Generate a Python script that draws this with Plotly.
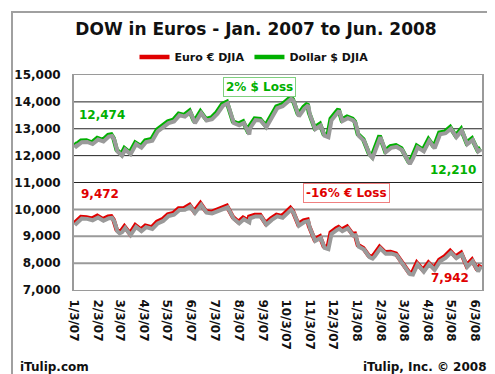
import plotly.graph_objects as go
import datetime as _dt

DATES = [
    "2007-01-03", "2007-01-05", "2007-01-12", "2007-01-19", "2007-01-26", "2007-02-02", "2007-02-09",
    "2007-02-16", "2007-02-20", "2007-02-23", "2007-02-27", "2007-03-02", "2007-03-05", "2007-03-09",
    "2007-03-14", "2007-03-16", "2007-03-23", "2007-03-30", "2007-04-05", "2007-04-13", "2007-04-20",
    "2007-04-27", "2007-05-04", "2007-05-11", "2007-05-18", "2007-05-25", "2007-06-01", "2007-06-07",
    "2007-06-15", "2007-06-22", "2007-06-29", "2007-07-06", "2007-07-13", "2007-07-19", "2007-07-27",
    "2007-08-03", "2007-08-09", "2007-08-16", "2007-08-17", "2007-08-24", "2007-08-31", "2007-09-07",
    "2007-09-14", "2007-09-21", "2007-09-28", "2007-10-05", "2007-10-09", "2007-10-12", "2007-10-19",
    "2007-10-26", "2007-10-31", "2007-11-02", "2007-11-09", "2007-11-16", "2007-11-21", "2007-11-26",
    "2007-11-30", "2007-12-07", "2007-12-10", "2007-12-14", "2007-12-21", "2007-12-28", "2007-12-31",
    "2008-01-04", "2008-01-11", "2008-01-18", "2008-01-22", "2008-01-25", "2008-02-01", "2008-02-08",
    "2008-02-15", "2008-02-22", "2008-02-29", "2008-03-07", "2008-03-10", "2008-03-14", "2008-03-20",
    "2008-03-28", "2008-04-04", "2008-04-11", "2008-04-18", "2008-04-25", "2008-05-02", "2008-05-09",
    "2008-05-16", "2008-05-23", "2008-05-30", "2008-06-06", "2008-06-10",
]

DOLLAR_DJIA = [
    12474, 12398, 12556, 12565, 12487, 12653, 12580,
    12767, 12786, 12647, 12216, 12114, 12050, 12276,
    12133, 12110, 12481, 12354, 12560, 12612, 12961,
    13120, 13265, 13327, 13556, 13507, 13668, 13266,
    13639, 13360, 13409, 13611, 13908, 14000, 13265,
    13182, 13271, 12845, 13079, 13379, 13358, 13113,
    13442, 13821, 13896, 14066, 14165, 14093, 13522,
    13807, 13930, 13595, 13042, 13177, 12799, 12743,
    13372, 13625, 13727, 13339, 13450, 13366, 13265,
    12800, 12606, 12099, 11971, 12207, 12743, 12183,
    12348, 12381, 12266, 11894, 11740, 11951, 12361,
    12216, 12610, 12325, 12850, 12891, 13058, 12745,
    12986, 12480, 12638, 12210, 12289,
]

EURO_DJIA = [
    9472, 9537, 9718, 9703, 9650, 9756, 9632,
    9724, 9738, 9610, 9241, 9163, 9205, 9364,
    9206, 9098, 9406, 9247, 9394, 9328, 9537,
    9626, 9811, 9857, 10034, 10043, 10162, 9922,
    10224, 9933, 9903, 9993, 10093, 10130, 9704,
    9532, 9687, 9572, 9724, 9794, 9793, 9482,
    9663, 9795, 9745, 9927, 10046, 9939, 9449,
    9582, 9614, 9376, 8884, 8995, 8625, 8575,
    9140, 9294, 9338, 9244, 9353, 9080, 9092,
    8672, 8558, 8276, 8222, 8321, 8604, 8402,
    8411, 8354, 8075, 7749, 7648, 7632, 8006,
    7737, 8017, 7806, 8123, 8253, 8452, 8239,
    8378, 7914, 8127, 7748, 7942,
]

TICK_DATES = [
    "2007-01-03", "2007-02-03", "2007-03-03", "2007-04-03", "2007-05-03", "2007-06-03",
    "2007-07-03", "2007-08-03", "2007-09-03", "2007-10-03", "2007-11-03", "2007-12-03",
    "2008-01-03", "2008-02-03", "2008-03-03", "2008-04-03", "2008-05-03", "2008-06-03",
]
TICK_LABELS = [
    "1/3/07", "2/3/07", "3/3/07", "4/3/07", "5/3/07", "6/3/07", "7/3/07", "8/3/07", "9/3/07",
    "10/3/07", "11/3/07", "12/3/07", "1/3/08", "2/3/08", "3/3/08", "4/3/08", "5/3/08", "6/3/08",
]

Y_TICKS = [7000, 8000, 9000, 10000, 11000, 12000, 13000, 14000, 15000]
GRID_DARK = [11000, 12000, 13000, 14000]
GRID_GRAY = [8000, 9000, 10000]

FONT = "DejaVu Sans"
GREEN = "#00B000"
RED = "#E00000"
SHADOW = "#9a9a9a"

W, H = 495, 374
ML, MR, MT, MB = 66, 21, 67, 92
PW, PH = W - ML - MR, H - MT - MB
X_RANGE = ["2007-01-03", "2008-06-12"]
Y_RANGE = [7000, 15000]


def px(x):
    return (x - ML) / PW


def py(y):
    return (H - MB - y) / PH


fig = go.Figure()

# shadow traces on shifted overlay axes (down/right by a pixel or so)
for vals in (EURO_DJIA, DOLLAR_DJIA):
    fig.add_trace(go.Scatter(x=DATES, y=vals, mode="lines", xaxis="x2", yaxis="y2",
                             line=dict(color=SHADOW, width=4), showlegend=False,
                             hoverinfo="skip"))

fig.add_trace(go.Scatter(x=DATES, y=EURO_DJIA, mode="lines", name="Euro € DJIA",
                         line=dict(color=RED, width=4.5)))
fig.add_trace(go.Scatter(x=DATES, y=DOLLAR_DJIA, mode="lines", name="Dollar $ DJIA",
                         line=dict(color=GREEN, width=4.5)))

shapes = []
for g in GRID_DARK:
    shapes.append(dict(type="line", xref="paper", yref="y", x0=0, x1=1, y0=g, y1=g,
                       line=dict(color="#222222", width=1), layer="below"))
for g in GRID_GRAY:
    shapes.append(dict(type="line", xref="paper", yref="y", x0=0, x1=1, y0=g, y1=g,
                       line=dict(color="#9a9a9a", width=2), layer="below"))
# outer frame
shapes.append(dict(type="rect", xref="paper", yref="paper", x0=px(4), x1=px(490),
                   y0=py(369), y1=py(4), line=dict(color="#a0a0a0", width=2)))

tick_font = dict(family=FONT, size=12, weight="bold", color="#111111")
annotations = [
    dict(text="12,474", x=px(69), y=py(107), xanchor="left", yanchor="middle",
         font=dict(family=FONT, size=12, weight="bold", color=GREEN)),
    dict(text="9,472", x=px(71), y=py(186), xanchor="left", yanchor="middle",
         font=dict(family=FONT, size=12, weight="bold", color=RED)),
    dict(text="12,210", x=px(470), y=py(162), xanchor="right", yanchor="middle",
         font=dict(family=FONT, size=12, weight="bold", color=GREEN)),
    dict(text="7,942", x=px(463), y=py(270), xanchor="right", yanchor="middle",
         font=dict(family=FONT, size=12, weight="bold", color=RED)),
    dict(text="2% $ Loss", x=px(251), y=py(79), xanchor="center", yanchor="middle",
         font=dict(family=FONT, size=12, weight="bold", color=GREEN),
         bordercolor="#7fd07f", borderwidth=1, borderpad=2, bgcolor="white"),
    dict(text="-16% € Loss", x=px(338), y=py(185), xanchor="center", yanchor="middle",
         font=dict(family=FONT, size=12, weight="bold", color=RED),
         bordercolor="#f08080", borderwidth=1, borderpad=2, bgcolor="white"),
    dict(text="iTulip.com", x=px(10), y=py(359), xanchor="left", yanchor="middle",
         font=dict(family=FONT, size=12, weight="bold", color="#111111")),
    dict(text="iTulip, Inc. © 2008", x=px(481), y=py(359), xanchor="right", yanchor="middle",
         font=dict(family=FONT, size=12, weight="bold", color="#111111")),
]
for a in annotations:
    a.update(xref="paper", yref="paper", showarrow=False)

# shift amounts for the shadow axes
y_unit_px = PH / (Y_RANGE[1] - Y_RANGE[0])
dy = 1.5 / y_unit_px
x0 = _dt.date.fromisoformat(X_RANGE[0]) - _dt.timedelta(days=1)
x1 = _dt.date.fromisoformat(X_RANGE[1]) - _dt.timedelta(days=1)

fig.update_layout(
    width=W, height=H,
    margin=dict(l=ML, r=MR, t=MT, b=MB, autoexpand=False),
    paper_bgcolor="white", plot_bgcolor="white",
    font=dict(family=FONT, color="#111111"),
    title=dict(text="DOW in Euros - Jan. 2007 to Jun. 2008", xref="container", yref="container",
               x=248 / W, y=1 - 21 / H, xanchor="center", yanchor="middle",
               font=dict(family=FONT, size=17, weight="bold", color="#111111")),
    legend=dict(orientation="h", xref="container", yref="container", x=246 / W, y=1 - 49 / H,
                xanchor="center", yanchor="middle",
                font=dict(family=FONT, size=11, weight="bold", color="#111111"), itemwidth=30,
                tracegroupgap=0, bgcolor="rgba(0,0,0,0)"),
    xaxis=dict(type="date", range=X_RANGE, tickvals=TICK_DATES, ticktext=TICK_LABELS,
               tickangle=90, tickfont=tick_font, showgrid=False, showline=True,
               linecolor="#9a9a9a", linewidth=1, mirror=True, ticks="", ticklabelstandoff=6,
               zeroline=False),
    yaxis=dict(range=Y_RANGE, tickvals=Y_TICKS, tickformat=",d", tickfont=tick_font,
               showgrid=False, showline=True, linecolor="#9a9a9a", linewidth=2, mirror=True,
               ticks="", ticklabelstandoff=9, zeroline=False),
    xaxis2=dict(type="date", range=[x0.isoformat(), x1.isoformat()], overlaying="x",
                visible=False),
    yaxis2=dict(range=[Y_RANGE[0] + dy, Y_RANGE[1] + dy], overlaying="y", visible=False),
    shapes=shapes,
    annotations=annotations,
    showlegend=True,
)

fig.write_html("out.html")
